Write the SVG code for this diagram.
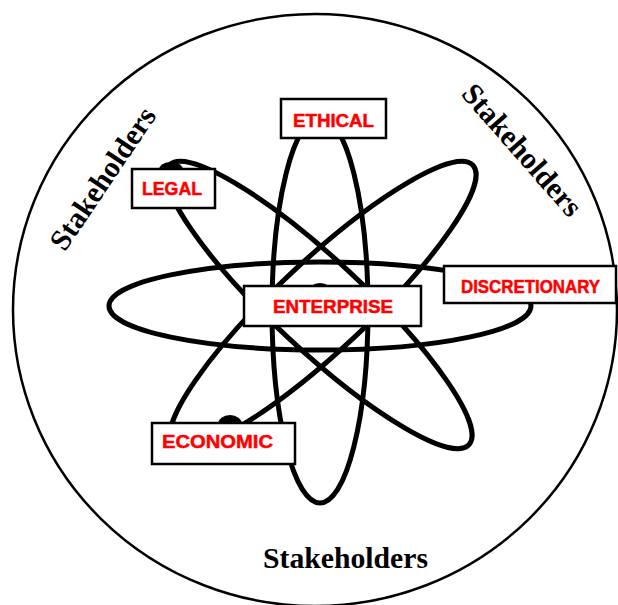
<svg xmlns="http://www.w3.org/2000/svg" width="618" height="605" viewBox="0 0 618 605">
<style>
.orbit{fill:none;stroke:#000;stroke-width:5}
.box{fill:#fff;stroke:#000;stroke-width:2.5}
.lbl{font-family:"Liberation Sans",Arial,sans-serif;font-weight:bold;font-size:18.5px;fill:#f00;stroke:#f00;stroke-width:0.5;text-anchor:middle}
.stk{font-family:"Liberation Serif","Times New Roman",serif;font-weight:bold;font-size:30px;fill:#000;text-anchor:middle}
.dot{fill:#000}
</style>
<rect width="618" height="605" fill="#fff"/>
<ellipse id="boundary" cx="315" cy="310" rx="302" ry="296" fill="none" stroke="#000" stroke-width="2.5"/>
<g id="orbits">
<ellipse class="orbit" cx="320" cy="306" rx="211" ry="44"/>
<ellipse class="orbit" cx="320" cy="310" rx="48" ry="193"/>
<ellipse class="orbit" cx="0" cy="0" rx="205" ry="45" transform="translate(319 305) rotate(43)"/>
<ellipse class="orbit" cx="0" cy="0" rx="205" ry="45" transform="translate(323 305) rotate(-43)"/>
<ellipse class="dot" cx="171" cy="170" rx="12" ry="8"/>
<ellipse class="dot" cx="230" cy="424" rx="12" ry="9"/>
<ellipse class="dot" cx="320" cy="292" rx="12" ry="9"/>
</g>
<g id="ethical">
<rect class="box" x="281" y="99" width="105" height="39"/>
<text class="lbl" x="333.5" y="127" textLength="81" lengthAdjust="spacingAndGlyphs">ETHICAL</text>
</g>
<g id="legal">
<rect class="box" x="132" y="169" width="83" height="39"/>
<text class="lbl" x="172" y="195" textLength="60" lengthAdjust="spacingAndGlyphs">LEGAL</text>
</g>
<g id="enterprise">
<rect class="box" x="244" y="286" width="177" height="40"/>
<text class="lbl" x="333" y="313.3" textLength="120" lengthAdjust="spacingAndGlyphs">ENTERPRISE</text>
</g>
<g id="discretionary">
<rect class="box" x="444" y="266" width="172" height="37"/>
<text class="lbl" x="530.5" y="292.7" textLength="139" lengthAdjust="spacingAndGlyphs">DISCRETIONARY</text>
</g>
<g id="economic">
<rect class="box" x="152" y="423" width="143" height="41"/>
<text class="lbl" x="217.5" y="448.3" textLength="111" lengthAdjust="spacingAndGlyphs">ECONOMIC</text>
</g>
<g id="stakeholders-left">
<text class="stk" transform="translate(111 184) rotate(-56)" textLength="165" lengthAdjust="spacingAndGlyphs">Stakeholders</text>
</g>
<g id="stakeholders-right">
<text class="stk" transform="translate(514.6 156.6) rotate(48.7)" textLength="165" lengthAdjust="spacingAndGlyphs">Stakeholders</text>
</g>
<g id="stakeholders-bottom">
<text class="stk" x="345.5" y="568" textLength="165" lengthAdjust="spacingAndGlyphs">Stakeholders</text>
</g>
</svg>
